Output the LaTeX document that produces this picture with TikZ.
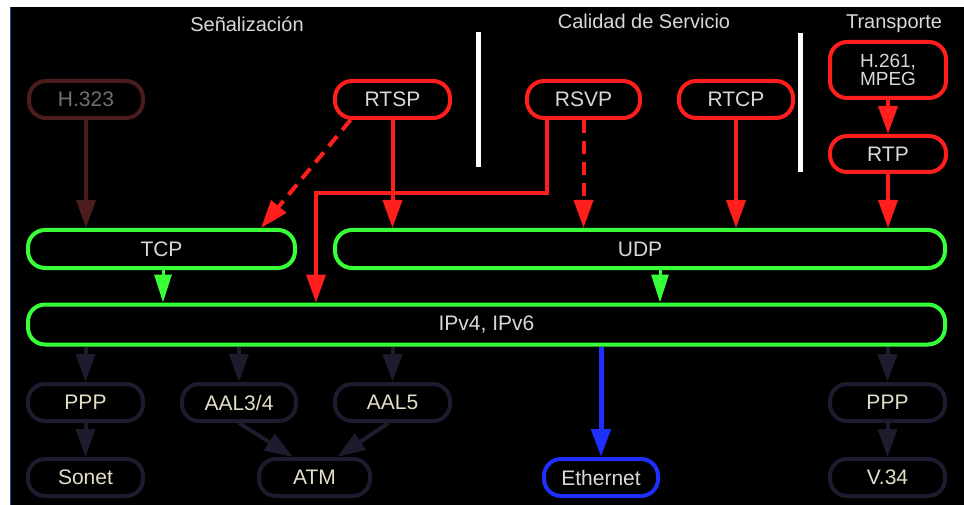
\documentclass[tikz,border=0pt]{standalone}
\usepackage{fontspec}
\setmainfont{Liberation Sans}
\usetikzlibrary{arrows.meta,calc}
\definecolor{cred}{HTML}{FF1E1E}
\definecolor{cgreen}{HTML}{38FF38}
\definecolor{cblue}{HTML}{1F2FFF}
\definecolor{cnavy}{HTML}{1C1C2E}
\definecolor{cbrown}{HTML}{4A1C1C}
\definecolor{ctxt}{HTML}{D8D8D8}
\definecolor{cdim}{HTML}{707070}
\definecolor{cbeige}{HTML}{E2DEC8}
\definecolor{cedge}{HTML}{1A5AA0}
\begin{document}
\begin{tikzpicture}[x=1pt,y=-1pt,
  box/.style={draw, line width=4pt, rounded corners=17pt, minimum height=37pt,
    inner sep=0pt, fill=black, font=\fontsize{21}{23}\selectfont, text=ctxt},
  redbox/.style={box, draw=cred},
  greenbox/.style={box, draw=cgreen},
  navybox/.style={box, draw=cnavy, text=cbeige},
  title/.style={anchor=base, text=ctxt, font=\fontsize{20}{22}\selectfont},
  tip/.style={-{Triangle[length=28pt,width=19pt]}},
  redarr/.style={tip, draw=cred, line width=4pt},
  greenarr/.style={-{Triangle[length=28pt,width=17pt]}, draw=cgreen, line width=3pt},
  navyarr/.style={tip, draw=cnavy, line width=4pt},
  bluearr/.style={tip, draw=cblue, line width=5pt},
  brownarr/.style={tip, draw=cbrown, line width=4pt},
  sep/.style={draw=white, line width=5pt}
]
\useasboundingbox (0,0) rectangle (964,505);
\fill[white] (0,0) rectangle (964,505);
\fill[black] (10,7) rectangle (964,505);
\draw[cedge, line width=1.5pt] (10.5,7) -- (10.5,505);

% titles
\node[title] (tsen) at (247,32) {Señalización};
\node[title] (tcal) at (644,28.5) {Calidad de Servicio};
\node[title] (ttra) at (894,28.5) {Transporte};

% separators
\draw[sep] (478,32) -- (478,167);
\draw[sep] (800,33) -- (800,172);

% top row
\node[box, draw=cbrown, text=cdim, minimum width=114pt] (H323) at (86,99.5) {H.323};
\node[redbox, minimum width=115pt] (RTSP) at (392.5,99.5) {RTSP};
\node[redbox, minimum width=113pt] (RSVP) at (583.5,99.5) {RSVP};
\node[redbox, minimum width=114pt] (RTCP) at (736,99.5) {RTCP};
\node[redbox, minimum width=116pt, minimum height=56pt, align=center,
  font=\fontsize{19}{18.5}\selectfont] (H261) at (888,70) {H.261,\\MPEG};
\node[redbox, minimum width=116pt, minimum height=36pt] (RTP) at (888,154) {RTP};

% transport layer
\node[greenbox, minimum width=267pt, minimum height=38pt] (TCP) at (161.5,249) {TCP};
\node[greenbox, minimum width=610pt, minimum height=38pt] (UDP) at (640,249) {UDP};

% network layer
\node[greenbox, minimum width=917pt, minimum height=40pt] (IP) at (486.5,324.5) {IPv4, IPv6};

% link layer
\node[navybox, minimum width=115pt] (PPPa) at (85.5,402.5) {PPP};
\node[navybox, minimum width=114pt] (AAL34) at (239,402.5) {AAL3/4};
\node[navybox, minimum width=115pt] (AAL5) at (392.5,402.5) {AAL5};
\node[navybox, minimum width=115pt] (PPPb) at (887.5,402.5) {PPP};
\node[navybox, minimum width=115pt] (Sonet) at (85.5,477.5) {Sonet};
\node[navybox, minimum width=111pt] (ATM) at (314.5,477.5) {ATM};
\node[box, draw=cblue, minimum width=114pt] (Eth) at (601,477.5) {Ethernet};
\node[navybox, minimum width=115pt] (V34) at (887.5,477.5) {V.34};

% connectors upper part
\draw[brownarr] (H323.south) -- (H323.south |- TCP.north);
\coordinate (d1) at ($(RTSP.south)+(-42,0)$);
\coordinate (d2) at ($(TCP.north)+(99.5,0)$);
\draw[redarr, dash pattern=on 13pt off 8pt] (d1) -- (d2);
\draw[redarr] (RTSP.south) -- (RTSP.south |- UDP.north);
\coordinate (k1) at (547,193);
\coordinate (k2) at (316,193);
\draw[redarr] (k1 |- RSVP.south) -- (k1) -- (k2) -- (k2 |- IP.north);
\draw[redarr, dash pattern=on 13pt off 8pt] (RSVP.south) -- (RSVP.south |- UDP.north);
\draw[redarr] (RTCP.south) -- (RTCP.south |- UDP.north);
\draw[redarr] (H261.south) -- (RTP.north);
\draw[redarr] (RTP.south) -- (RTP.south |- UDP.north);

% transport to IP
\coordinate (g1) at ($(TCP.south)+(1.5,0)$);
\coordinate (g2) at ($(UDP.south)+(20,0)$);
\draw[greenarr] (g1) -- (g1 |- IP.north);
\draw[greenarr] (g2) -- (g2 |- IP.north);

% IP downwards
\draw[navyarr] (PPPa.north |- IP.south) -- (PPPa.north);
\draw[navyarr] (AAL34.north |- IP.south) -- (AAL34.north);
\draw[navyarr] (AAL5.north |- IP.south) -- (AAL5.north);
\draw[bluearr] (Eth.north |- IP.south) -- (Eth.north);
\draw[navyarr] (PPPb.north |- IP.south) -- (PPPb.north);

% link to physical
\draw[navyarr] (PPPa.south) -- (Sonet.north);
\draw[navyarr] (PPPb.south) -- (V34.north);
\coordinate (a1) at ($(ATM.north)+(-21.5,0)$);
\coordinate (a2) at ($(ATM.north)+(22.5,0)$);
\draw[navyarr] (AAL34.south) -- (a1);
\draw[navyarr] ($(AAL5.south)+(-4,0)$) -- (a2);
\end{tikzpicture}
\end{document}
